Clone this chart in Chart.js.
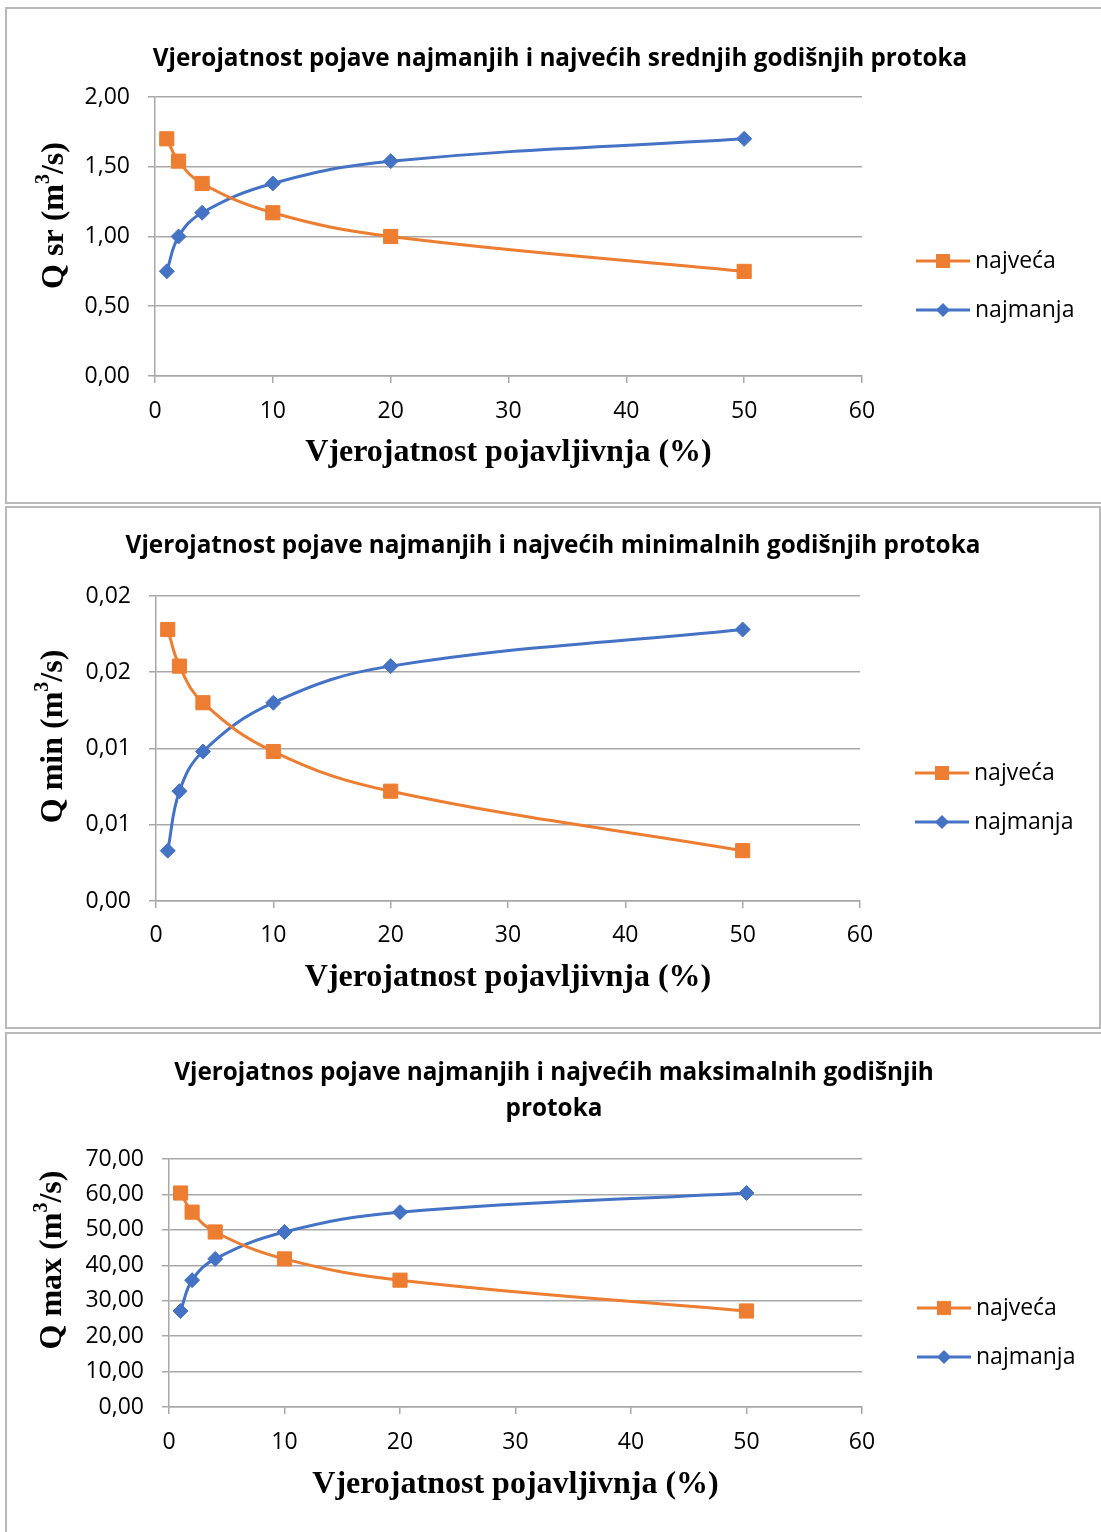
<!DOCTYPE html>
<html lang="hr">
<head>
<meta charset="UTF-8">
<title>Vjerojatnost pojave protoka</title>
<script src="https://cdn.jsdelivr.net/npm/chart.js"></script>
<style>
  body { margin: 0; background: #fff; width: 1101px; height: 1532px; overflow: hidden; position: relative; }
  .box { position: absolute; border: 2px solid #b9b9b9; box-sizing: border-box; }
  .box canvas { display: block; }
</style>
</head>
<body>

<div class="box" style="left:5px;top:7px;width:1110px;height:497px">
  <canvas id="chartSr" width="1106" height="493"></canvas>
</div>
<div class="box" style="left:5px;top:506px;width:1096px;height:523px">
  <canvas id="chartMin" width="1092" height="519"></canvas>
</div>
<div class="box" style="left:5px;top:1032px;width:1096px;height:505px;border-right:none">
  <canvas id="chartMax" width="1094" height="501"></canvas>
</div>

<script>
// vjerojatnost pojavljivanja (%)
const probability = [1, 2, 4, 10, 20, 50];

// srednji godisnji protoci (m3/s)
const qsrNajveca = [1.70, 1.54, 1.38, 1.17, 1.00, 0.75];
const qsrNajmanja = [0.75, 1.00, 1.17, 1.38, 1.54, 1.70];

// minimalni godisnji protoci (m3/s)
const qminNajveca = [0.0178, 0.0154, 0.0130, 0.0098, 0.0072, 0.0033];
const qminNajmanja = [0.0033, 0.0072, 0.0098, 0.0130, 0.0154, 0.0178];

// maksimalni godisnji protoci (m3/s)
const qmaxNajveca = [60.4, 55.0, 49.4, 41.8, 35.8, 27.1];
const qmaxNajmanja = [27.1, 35.8, 41.8, 49.4, 55.0, 60.4];

const seriesNames = ['najveća', 'najmanja'];

const xTickLabels = ['0', '10', '20', '30', '40', '50', '60'];
const yTicksSr = ['0,00', '0,50', '1,00', '1,50', '2,00'];
const yTicksMin = ['0,00', '0,01', '0,01', '0,02', '0,02'];
const yTicksMax = ['0,00', '10,00', '20,00', '30,00', '40,00', '50,00', '60,00', '70,00'];

const xTitle = 'Vjerojatnost pojavljivnja (%)';

const ORANGE = '#ED7D31';
const BLUE = '#4472C4';
const GRID = '#a8a8a8';
const SANS = '"Open Sans", Lato, sans-serif';
const SERIF = '"Liberation Serif", "Times New Roman", serif';

// legend drawn to the right of the plot, line + marker + label
const sideLegend = {
  id: 'sideLegend',
  afterDraw(chart, args, opts) {
    const ctx = chart.ctx;
    const x0 = chart.chartArea.right + opts.dx;
    ctx.save();
    chart.data.datasets.forEach((ds, i) => {
      const y = opts.ys[i];
      ctx.strokeStyle = ds.borderColor;
      ctx.fillStyle = ds.borderColor;
      ctx.lineWidth = 3;
      ctx.beginPath();
      ctx.moveTo(x0, y);
      ctx.lineTo(x0 + 54, y);
      ctx.stroke();
      const cx = x0 + 27;
      ctx.beginPath();
      if (ds.pointStyle === 'rect') {
        ctx.rect(cx - 7, y - 7, 14, 14);
      } else {
        ctx.moveTo(cx, y - 7);
        ctx.lineTo(cx + 7, y);
        ctx.lineTo(cx, y + 7);
        ctx.lineTo(cx - 7, y);
        ctx.closePath();
      }
      ctx.fill();
      ctx.fillStyle = '#000';
      ctx.font = '23px ' + SANS;
      ctx.textBaseline = 'middle';
      ctx.textAlign = 'left';
      ctx.fillText(ds.label, x0 + 59, y);
    });
    ctx.restore();
  }
};

// rotated y title with a real superscript in "m3/s"
const yTitle = {
  id: 'yTitle',
  afterDraw(chart, args, o) {
    const { ctx, chartArea } = chart;
    const cy = (chartArea.top + chartArea.bottom) / 2 + o.dy;
    const big = 'bold 32px ' + SERIF;
    const small = 'bold 20px ' + SERIF;
    const parts = [
      { t: o.text[0], f: big, dy: 0 },
      { t: o.text[1], f: small, dy: -11 },
      { t: o.text[2], f: big, dy: 0 }
    ];
    ctx.save();
    ctx.translate(o.x, cy);
    ctx.rotate(-Math.PI / 2);
    let total = 0;
    parts.forEach(p => { ctx.font = p.f; p.w = ctx.measureText(p.t).width; total += p.w; });
    let x = -total / 2;
    ctx.fillStyle = '#000';
    ctx.textBaseline = 'middle';
    ctx.textAlign = 'left';
    parts.forEach(p => { ctx.font = p.f; ctx.fillText(p.t, x, p.dy); x += p.w; });
    ctx.restore();
  }
};

function series(values, i) {
  const isMax = i === 0;
  return {
    label: seriesNames[i],
    data: probability.map((p, k) => ({ x: p, y: values[k] })),
    borderColor: isMax ? ORANGE : BLUE,
    backgroundColor: isMax ? ORANGE : BLUE,
    borderWidth: 3,
    tension: 0.4,
    pointStyle: isMax ? 'rect' : 'rectRot',
    pointRadius: isMax ? 10 : 7.5,
    pointBorderWidth: 1,
    pointBackgroundColor: isMax ? ORANGE : BLUE
  };
}

function makeChart(id, cfg) {
  const canvas = document.getElementById(id);
  const W = canvas.width, H = canvas.height;
  new Chart(canvas, {
    type: 'line',
    data: {
      datasets: [series(cfg.najveca, 0), series(cfg.najmanja, 1)]
    },
    options: {
      responsive: false,
      animation: false,
      layout: { padding: 0 },
      plugins: {
        legend: { display: false },
        tooltip: { enabled: false },
        title: {
          display: true,
          text: cfg.title,
          color: '#000',
          font: { family: SANS, size: 24.3, weight: 'bold', lineHeight: cfg.titleLine },
          padding: cfg.titlePad
        },
        sideLegend: { dx: cfg.legendDx, ys: cfg.legendY },
        yTitle: { text: cfg.yTitle, x: cfg.yTitleX, dy: cfg.yTitleDy }
      },
      scales: {
        x: {
          type: 'linear',
          min: 0,
          max: 60,
          afterFit: s => { s.height = H - cfg.plot.bottom; },
          ticks: {
            stepSize: 10,
            color: '#000',
            padding: cfg.xTickPad,
            font: { family: SANS, size: 23 },
            callback: (v, i) => xTickLabels[i]
          },
          grid: { drawOnChartArea: false, drawTicks: true, tickLength: 7, color: GRID, lineWidth: 1.5 },
          border: { display: true, color: GRID, width: 1.5 },
          title: {
            display: true,
            text: xTitle,
            color: '#000',
            font: { family: SERIF, size: 32, weight: 'bold', lineHeight: 1.2 },
            padding: { top: 0, bottom: cfg.xTitlePad }
          }
        },
        y: {
          min: 0,
          max: cfg.yMax,
          afterFit: s => { s.width = cfg.plot.left; },
          ticks: {
            stepSize: cfg.yStep,
            color: '#000',
            padding: 18,
            font: { family: SANS, size: 23 },
            callback: (v, i) => cfg.yTicks[i]
          },
          grid: { drawTicks: true, tickLength: 7, color: GRID, lineWidth: 1.5 },
          border: { display: true, color: GRID, width: 1.5 },
          title: { display: false }
        },
        // empty right-hand axis that only reserves room for the legend
        legendSpace: {
          type: 'linear',
          position: 'right',
          display: true,
          afterFit: s => { s.width = W - cfg.plot.right; },
          ticks: { display: false },
          grid: { display: false, drawTicks: false },
          border: { display: false }
        }
      }
    },
    plugins: [sideLegend, yTitle]
  });
}

makeChart('chartSr', {
  najveca: qsrNajveca,
  najmanja: qsrNajmanja,
  title: 'Vjerojatnost pojave najmanjih i najvećih srednjih godišnjih protoka',
  titleLine: 1.2,
  titlePad: { top: 35.4, bottom: 23.4 },
  yTitle: ['Q sr (m', '3', '/s)'],
  yTitleX: 48,
  yTitleDy: -21,
  yMax: 2,
  yStep: 0.5,
  yTicks: yTicksSr,
  plot: { left: 148, right: 855, bottom: 367 },
  xTickPad: 15,
  xTitlePad: 30,
  legendDx: 54,
  legendY: [252, 301]
});

makeChart('chartMin', {
  najveca: qminNajveca,
  najmanja: qminNajmanja,
  title: 'Vjerojatnost pojave najmanjih i najvećih minimalnih godišnjih protoka',
  titleLine: 1.2,
  titlePad: { top: 23.4, bottom: 35.4 },
  yTitle: ['Q min (m', '3', '/s)'],
  yTitleX: 47,
  yTitleDy: -12,
  yMax: 0.02,
  yStep: 0.005,
  yTicks: yTicksMin,
  plot: { left: 149, right: 853, bottom: 393 },
  xTickPad: 14,
  xTitlePad: 30,
  legendDx: 55,
  legendY: [265, 314]
});

makeChart('chartMax', {
  najveca: qmaxNajveca,
  najmanja: qmaxNajmanja,
  title: ['Vjerojatnos pojave najmanjih i najvećih maksimalnih godišnjih', 'protoka'],
  titleLine: 36 / 24.3,
  titlePad: { top: 21, bottom: 32 },
  yTitle: ['Q max (m', '3', '/s)'],
  yTitleX: 46,
  yTitleDy: -23,
  yMax: 70,
  yStep: 10,
  yTicks: yTicksMax,
  plot: { left: 162, right: 855, bottom: 373 },
  xTickPad: 15,
  xTitlePad: 31,
  legendDx: 55,
  legendY: [274, 323]
});
</script>
</body>
</html>
